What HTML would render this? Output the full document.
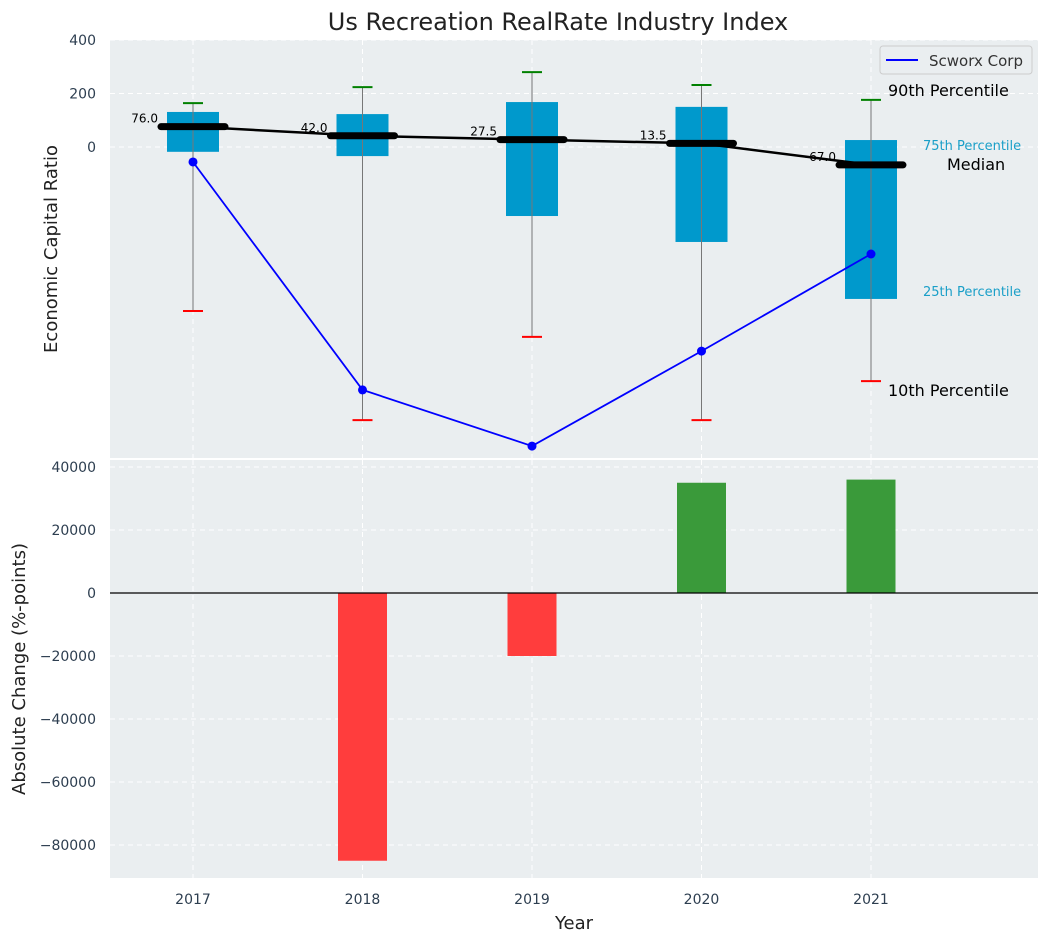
<!DOCTYPE html>
<html><head><meta charset="utf-8"><style>
body{margin:0;background:#fff;font-family:"Liberation Sans","DejaVu Sans",sans-serif}
svg text{font-family:"DejaVu Sans","Liberation Sans",sans-serif}
</style></head><body>
<svg id="c" width="1048" height="942" xmlns="http://www.w3.org/2000/svg">
<rect width="1048" height="942" fill="#fff"/>
<text x="558" y="30" font-size="24" text-anchor="middle" fill="#222">Us Recreation RealRate Industry Index</text>
<rect x="110" y="40" width="928" height="418" fill="#eaeef0"/>
<rect x="110" y="460" width="928" height="418" fill="#eaeef0"/>
<g id="gtop"></g><g id="gbot"></g>
<text transform="translate(57,249) rotate(-90)" font-size="18" text-anchor="middle" fill="#222">Economic Capital Ratio</text>
<text transform="translate(25,669) rotate(-90)" font-size="18" text-anchor="middle" fill="#222">Absolute Change (%-points)</text>
<text x="574" y="929" font-size="18" text-anchor="middle" fill="#222">Year</text>
<g>
<rect x="880" y="46" width="152" height="28" rx="3" fill="#eaeef0" stroke="#ccc"/>
<line x1="886" y1="60" x2="918" y2="60" stroke="#0000ff" stroke-width="2"/>
<text x="929" y="66" font-size="15" fill="#333">Scworx Corp</text></g>
<text x="888" y="96" font-size="16" fill="#000">90th Percentile</text>
<text x="923" y="150" font-size="13" fill="#1a9fc8">75th Percentile</text>
<text x="947" y="170" font-size="16" fill="#000">Median</text>
<text x="923" y="296" font-size="13" fill="#1a9fc8">25th Percentile</text>
<text x="888" y="396" font-size="16" fill="#000">10th Percentile</text>
</svg>
<script>
const years=[2017,2018,2019,2020,2021];
const p10=[-613,-1021,-710,-1021,-875];
const p25=[-18,-34,-258,-355,-568];
const median=[76,42,27.5,13.5,-67];
const p75=[131,123,168,150,26];
const p90=[164,224,280,232,176];
const scworx=[-56,-908,-1118,-763,-400];
const change=[0,-85000,-20000,35000,36000];
const topTicks=[400,200,0];
const botTicks=[40000,20000,0,-20000,-40000,-60000,-80000];
const NS='http://www.w3.org/2000/svg';
const X=y=>193+(y-2017)*169.5;
const YT=v=>147-v*0.2675;
const YB=v=>593-v*126/40000;
function mk(p,t,a,txt){const e=document.createElementNS(NS,t);for(const k in a)e.setAttribute(k,a[k]);if(txt!==undefined)e.textContent=txt;p.appendChild(e);return e;}
const gTop=document.getElementById('gtop'),gBot=document.getElementById('gbot');
topTicks.forEach(t=>{
 const g=mk(gTop,'line',{x1:110,x2:1038,y1:YT(t),y2:YT(t),stroke:'#fff','stroke-dasharray':'5,4'});
 
 
 const l=mk(gTop,'text',{x:96,y:YT(t)+5,'font-size':14,'text-anchor':'end',fill:'#2d3e50'},t);
 
 
});
botTicks.forEach(t=>{
 const g=mk(gBot,'line',{x1:110,x2:1038,y1:YB(t),y2:YB(t),stroke:'#fff','stroke-dasharray':'5,4'});
 
 
 const l=mk(gBot,'text',{x:96,y:YB(t)+5,'font-size':14,'text-anchor':'end',fill:'#2d3e50'},t<0?'\u2212'+(-t):t);
 
 
});
years.forEach(y=>{
 [[gTop,40,458],[gBot,460,878]].forEach(([p,a,b])=>{const g=mk(p,'line',{x1:X(y),x2:X(y),y1:a,y2:b,stroke:'#fff','stroke-dasharray':'5,4'});
 
 });
 const l=mk(gBot,'text',{x:X(y),y:904,'font-size':14,'text-anchor':'middle',fill:'#2d3e50'},y);
 
 
});
years.forEach((y,i)=>{
 const x=X(y);
 const b=mk(gTop,'rect',{x:x-26,y:YT(p75[i]),width:52,height:YT(p25[i])-YT(p75[i]),fill:'#0099cc'});
 
 
 const w=mk(gTop,'line',{x1:x,x2:x,y1:YT(p90[i]),y2:YT(p10[i]),stroke:'#777','stroke-width':1});
 
 
 const c1=mk(gTop,'line',{x1:x-10,x2:x+10,y1:YT(p90[i]),y2:YT(p90[i]),stroke:'green','stroke-width':2});
 
 
 const c2=mk(gTop,'line',{x1:x-10,x2:x+10,y1:YT(p10[i]),y2:YT(p10[i]),stroke:'red','stroke-width':2});
 
 
});
const ml=mk(gTop,'polyline',{points:years.map((y,i)=>X(y)+','+YT(median[i])).join(' '),fill:'none',stroke:'#000','stroke-width':2.5});


years.forEach((y,i)=>{
 const m=mk(gTop,'line',{x1:X(y)-32,x2:X(y)+32,y1:YT(median[i]),y2:YT(median[i]),stroke:'#000','stroke-width':7,'stroke-linecap':'round'});
 
 
 const t=mk(gTop,'text',{x:X(y)-35,y:YT(median[i])-4,'font-size':12,'text-anchor':'end',fill:'#000'},median[i].toFixed(1));
 
 
});
const sl=mk(gTop,'polyline',{points:years.map((y,i)=>X(y)+','+YT(scworx[i])).join(' '),fill:'none',stroke:'#0000ff','stroke-width':1.8});


years.forEach((y,i)=>{
 const c=mk(gTop,'circle',{cx:X(y),cy:YT(scworx[i]),r:4.5,fill:'#0000ff'});
 
 
});
years.forEach((y,i)=>{
 if(!change[i])return;
 const v=change[i];
 const r=mk(gBot,'rect',{x:X(y)-24.5,y:Math.min(YB(v),YB(0)),width:49,height:Math.abs(YB(v)-YB(0)),fill:v<0?'#ff3d3d':'#3a9a3a'});
 
 
});
const z=mk(gBot,'line',{x1:110,x2:1038,y1:YB(0),y2:YB(0),stroke:'#000','stroke-width':1.2});


</script>
</body></html>
